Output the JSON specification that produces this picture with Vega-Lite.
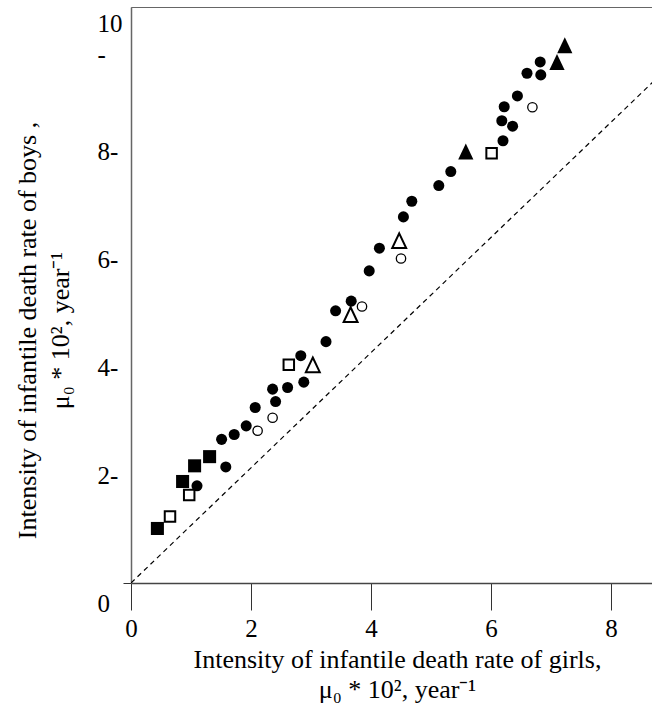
{
  "$schema": "https://vega.github.io/schema/vega-lite/v6.json",
  "width": 522,
  "height": 576,
  "autosize": {"type": "none"},
  "padding": {"left": 131, "top": 7, "right": 0, "bottom": 121},
  "background": "white",
  "config": {
    "font": "Liberation Serif",
    "view": {"stroke": "#666", "strokeWidth": 1},
    "axis": {
      "grid": false,
      "labelColor": "black",
      "titleColor": "black",
      "labelFont": "Liberation Serif",
      "titleFont": "Liberation Serif",
      "titleFontWeight": "normal",
      "labelFontSize": 25,
      "titleFontSize": 26,
      "labelFlush": false,
      "labelOverlap": false
    }
  },
  "datasets": {
    "diagonal": [
      {"girls": 0, "boys": 0},
      {"girls": 8.7, "boys": 9.28}
    ],
    "rates": [
      {"girls": 0.44, "boys": 1.01, "marker": "square"},
      {"girls": 0.65, "boys": 1.23, "marker": "open square"},
      {"girls": 0.86, "boys": 1.88, "marker": "square"},
      {"girls": 1.10, "boys": 1.80, "marker": "circle"},
      {"girls": 0.97, "boys": 1.63, "marker": "open square"},
      {"girls": 1.06, "boys": 2.17, "marker": "square"},
      {"girls": 1.31, "boys": 2.34, "marker": "square"},
      {"girls": 1.58, "boys": 2.15, "marker": "circle"},
      {"girls": 1.51, "boys": 2.66, "marker": "circle"},
      {"girls": 1.72, "boys": 2.75, "marker": "circle"},
      {"girls": 1.92, "boys": 2.91, "marker": "circle"},
      {"girls": 2.11, "boys": 2.82, "marker": "open circle"},
      {"girls": 2.07, "boys": 3.25, "marker": "circle"},
      {"girls": 2.36, "boys": 3.06, "marker": "open circle"},
      {"girls": 2.36, "boys": 3.59, "marker": "circle"},
      {"girls": 2.41, "boys": 3.36, "marker": "circle"},
      {"girls": 2.61, "boys": 3.62, "marker": "circle"},
      {"girls": 2.88, "boys": 3.72, "marker": "circle"},
      {"girls": 2.63, "boys": 4.04, "marker": "open square"},
      {"girls": 2.83, "boys": 4.21, "marker": "circle"},
      {"girls": 3.03, "boys": 4.04, "marker": "open triangle"},
      {"girls": 3.25, "boys": 4.47, "marker": "circle"},
      {"girls": 3.41, "boys": 5.04, "marker": "circle"},
      {"girls": 3.66, "boys": 4.97, "marker": "open triangle"},
      {"girls": 3.67, "boys": 5.22, "marker": "circle"},
      {"girls": 3.85, "boys": 5.12, "marker": "open circle"},
      {"girls": 3.97, "boys": 5.78, "marker": "circle"},
      {"girls": 4.14, "boys": 6.20, "marker": "circle"},
      {"girls": 4.47, "boys": 6.34, "marker": "open triangle"},
      {"girls": 4.50, "boys": 6.01, "marker": "open circle"},
      {"girls": 4.54, "boys": 6.78, "marker": "circle"},
      {"girls": 4.68, "boys": 7.07, "marker": "circle"},
      {"girls": 5.13, "boys": 7.36, "marker": "circle"},
      {"girls": 5.33, "boys": 7.62, "marker": "circle"},
      {"girls": 5.58, "boys": 7.99, "marker": "triangle"},
      {"girls": 6.01, "boys": 7.96, "marker": "open square"},
      {"girls": 6.20, "boys": 8.19, "marker": "circle"},
      {"girls": 6.18, "boys": 8.56, "marker": "circle"},
      {"girls": 6.36, "boys": 8.46, "marker": "circle"},
      {"girls": 6.22, "boys": 8.82, "marker": "circle"},
      {"girls": 6.44, "boys": 9.02, "marker": "circle"},
      {"girls": 6.69, "boys": 8.81, "marker": "open circle"},
      {"girls": 6.60, "boys": 9.44, "marker": "circle"},
      {"girls": 6.82, "boys": 9.65, "marker": "circle"},
      {"girls": 6.83, "boys": 9.41, "marker": "circle"},
      {"girls": 7.10, "boys": 9.65, "marker": "triangle"},
      {"girls": 7.23, "boys": 9.96, "marker": "triangle"}
    ]
  },
  "encoding": {
    "x": {
      "field": "girls",
      "type": "quantitative",
      "scale": {"domain": [0, 8.7], "nice": false, "zero": false},
      "axis": {
        "values": [0, 2, 4, 6, 8],
        "tickSize": 27,
        "tickColor": "#333",
        "tickWidth": 1,
        "domainColor": "#444",
        "domainWidth": 1.5,
        "labelPadding": 6,
        "title": ["Intensity of infantile death rate of girls,", "μ₀ * 10², year⁻¹"],
        "titleX": 266,
        "titleY": 84,
        "titleAlign": "center",
        "titleBaseline": "alphabetic",
        "titleLineHeight": 30
      }
    },
    "y": {
      "field": "boys",
      "type": "quantitative",
      "scale": {"domain": [0, 10.667], "nice": false, "zero": false},
      "axis": {
        "values": [0, 2, 4, 6, 8, 9.78, 10],
        "labelExpr": "datum.value == 10 ? '10' : datum.value == 0 ? '0' : datum.value == 9.78 ? '-' : datum.label + '-'",
        "labelAlign": "left",
        "labelBaseline": "middle",
        "labelPadding": 26,
        "labelOffset": {
          "condition": [
            {"test": "datum.value == 10", "value": -20},
            {"test": "datum.value == 0", "value": 20}
          ],
          "value": 0
        },
        "tickSize": 8,
        "tickColor": "#333",
        "tickOpacity": {"condition": {"test": "datum.value == 0", "value": 1}, "value": 0},
        "domainColor": "#666",
        "domainWidth": 1.5,
        "title": ["Intensity of infantile death rate of boys ,", "μ₀ * 10², year⁻¹"],
        "titleAngle": -90,
        "titleX": -96,
        "titleY": 323,
        "titleAlign": "center",
        "titleBaseline": "alphabetic",
        "titleLineHeight": 33
      }
    }
  },
  "layer": [
    {
      "data": {"name": "diagonal"},
      "mark": {"type": "line", "color": "black", "strokeWidth": 1.2, "strokeDash": [5, 4], "clip": true},
      "encoding": {}
    },
    {
      "data": {"name": "rates"},
      "mark": {"type": "point", "filled": true, "opacity": 1, "stroke": "black"},
      "encoding": {
        "shape": {
          "field": "marker",
          "type": "nominal",
          "scale": {
            "domain": ["circle", "open circle", "square", "open square", "triangle", "open triangle"],
            "range": ["circle", "circle", "square", "square", "M0,-1L0.95,1L-0.95,1Z", "M0,-1L0.95,1L-0.95,1Z"]
          },
          "legend": null
        },
        "fill": {
          "field": "marker",
          "type": "nominal",
          "scale": {
            "domain": ["circle", "open circle", "square", "open square", "triangle", "open triangle"],
            "range": ["black", "white", "black", "white", "black", "white"]
          },
          "legend": null
        },
        "size": {
          "field": "marker",
          "type": "ordinal",
          "scale": {
            "type": "ordinal",
            "domain": ["circle", "open circle", "square", "open square", "triangle", "open triangle"],
            "range": [122, 88, 170, 110, 256, 215]
          },
          "legend": null
        },
        "strokeWidth": {
          "field": "marker",
          "type": "ordinal",
          "scale": {
            "type": "ordinal",
            "domain": ["circle", "open circle", "square", "open square", "triangle", "open triangle"],
            "range": [0, 1.3, 0, 2, 0, 2]
          },
          "legend": null
        }
      }
    }
  ]
}
